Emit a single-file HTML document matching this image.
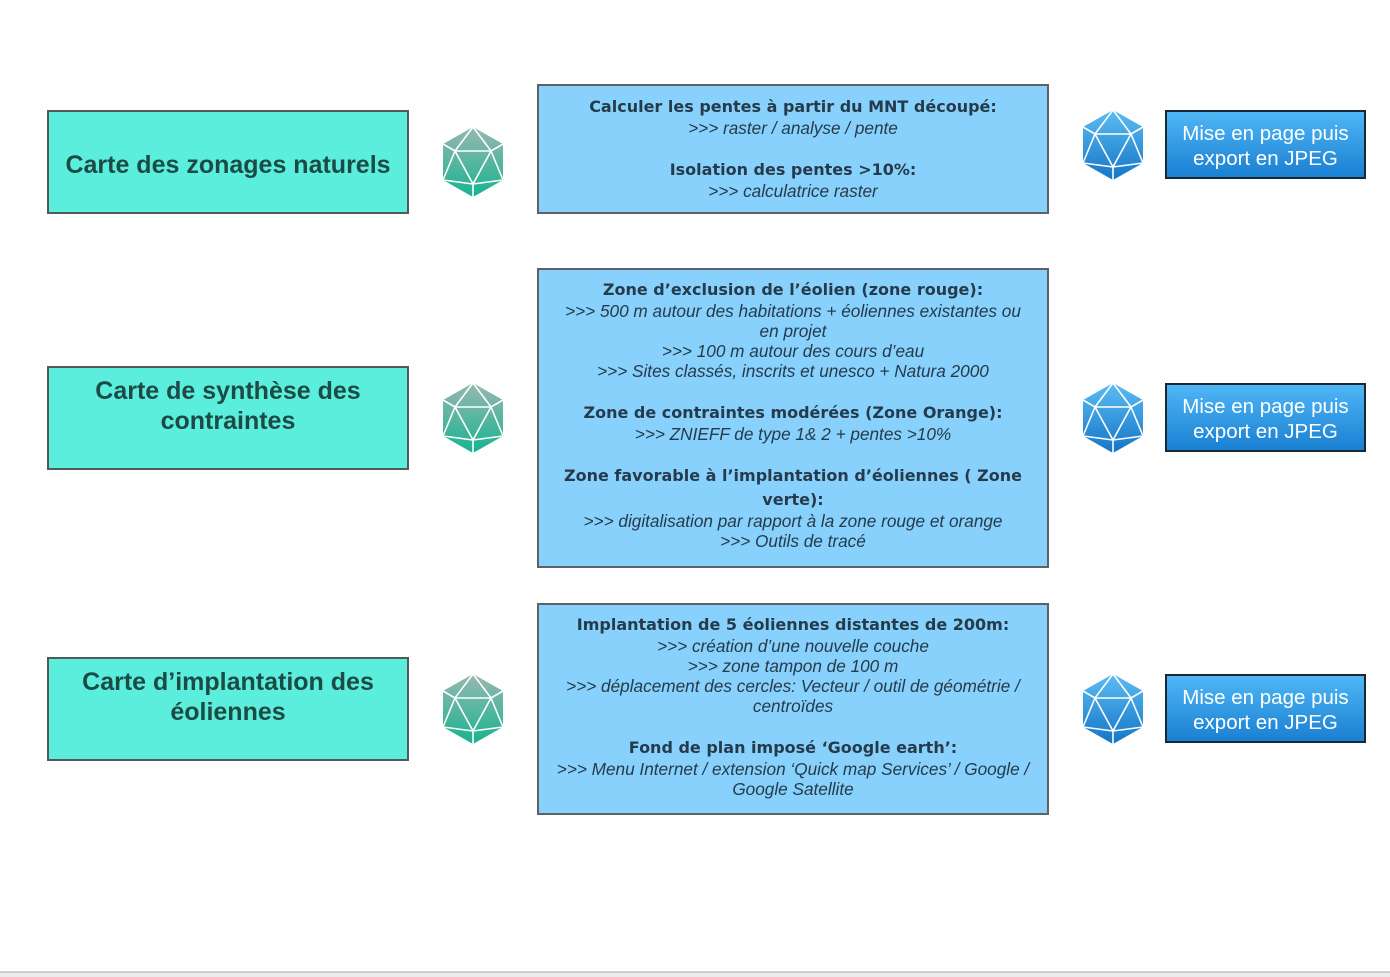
<!DOCTYPE html>
<html><head><meta charset="utf-8">
<style>
html,body{margin:0;padding:0;}
body{width:1390px;height:977px;position:relative;background:#fefefe;overflow:hidden;font-family:"Liberation Sans",Arial,sans-serif;}
.box{position:absolute;box-sizing:border-box;}
.lb{background:#5beedc;border:2px solid #505a58;}
.mb{background:#88d1fd;border:2px solid #5e6266;}
.bt{background:linear-gradient(#4fb6f6,#1a80d2);border:2px solid #1b2733;}
.lt{position:absolute;left:47px;width:362px;text-align:center;font-weight:bold;font-size:25px;line-height:30px;height:30px;color:#1c4a45;white-space:nowrap;}
.b,.i{position:absolute;left:537px;width:512px;text-align:center;height:20px;line-height:20px;white-space:nowrap;color:#253b4a;}
.b{font-family:"DejaVu Sans","Liberation Sans",sans-serif;font-weight:bold;font-size:16px;}
.i{font-style:italic;font-size:17.2px;}
.bl{position:absolute;left:1165px;width:201px;text-align:center;color:#fff;font-size:20.5px;height:25px;line-height:25px;white-space:nowrap;}
svg.ic{position:absolute;width:62px;height:72px;}
.bottom1{position:absolute;left:0;top:971px;width:1390px;height:1px;background:#d4d4d4;}
.bottom2{position:absolute;left:0;top:972px;width:1390px;height:5px;background:#ececec;border-top:1px solid #c8c8c8;box-sizing:border-box;}
</style></head><body>
<svg width="0" height="0" style="position:absolute">
<defs>
<linearGradient id="gg" x1="0" y1="0" x2="0" y2="1"><stop offset="0" stop-color="#98b8b0"/><stop offset="1" stop-color="#17b390"/></linearGradient>
<linearGradient id="bg" x1="0" y1="0" x2="0" y2="1"><stop offset="0" stop-color="#5cbdf2"/><stop offset="1" stop-color="#1475c8"/></linearGradient>
</defs>
</svg>

<!-- Left boxes -->
<div class="box lb" style="left:47px;top:110px;width:362px;height:104px;"></div>
<div class="box lb" style="left:47px;top:366px;width:362px;height:104px;"></div>
<div class="box lb" style="left:47px;top:657px;width:362px;height:104px;"></div>
<div class="lt" style="top:150px;">Carte des zonages naturels</div>
<div class="lt" style="top:376px;">Carte de synthèse des</div>
<div class="lt" style="top:406px;">contraintes</div>
<div class="lt" style="top:667px;">Carte d’implantation des</div>
<div class="lt" style="top:697px;">éoliennes</div>

<!-- Icons -->
<svg class="ic" style="left:442px;top:126px;" viewBox="-31 -36 62 72"><g stroke="#fff" stroke-width="1.6" fill="none" stroke-linejoin="round"><polygon points="0,-35 30,-18 30,18 0,35 -30,18 -30,-18" fill="url(#gg)" stroke="none"/><polygon points="-18,-11 18,-11 0,22"/><path d="M0,-35L-18,-11M0,-35L18,-11M-30,-18L-18,-11M30,-18L18,-11M-30,18L-18,-11M-30,18L0,22M30,18L18,-11M30,18L0,22M0,35L0,22"/></g></svg>
<svg class="ic" style="left:442px;top:382px;" viewBox="-31 -36 62 72"><g stroke="#fff" stroke-width="1.6" fill="none" stroke-linejoin="round"><polygon points="0,-35 30,-18 30,18 0,35 -30,18 -30,-18" fill="url(#gg)" stroke="none"/><polygon points="-18,-11 18,-11 0,22"/><path d="M0,-35L-18,-11M0,-35L18,-11M-30,-18L-18,-11M30,-18L18,-11M-30,18L-18,-11M-30,18L0,22M30,18L18,-11M30,18L0,22M0,35L0,22"/></g></svg>
<svg class="ic" style="left:442px;top:673px;" viewBox="-31 -36 62 72"><g stroke="#fff" stroke-width="1.6" fill="none" stroke-linejoin="round"><polygon points="0,-35 30,-18 30,18 0,35 -30,18 -30,-18" fill="url(#gg)" stroke="none"/><polygon points="-18,-11 18,-11 0,22"/><path d="M0,-35L-18,-11M0,-35L18,-11M-30,-18L-18,-11M30,-18L18,-11M-30,18L-18,-11M-30,18L0,22M30,18L18,-11M30,18L0,22M0,35L0,22"/></g></svg>

<svg class="ic" style="left:1082px;top:109px;" viewBox="-31 -36 62 72"><g stroke="#fff" stroke-width="1.6" fill="none" stroke-linejoin="round"><polygon points="0,-35 30,-18 30,18 0,35 -30,18 -30,-18" fill="url(#bg)" stroke="none"/><polygon points="-18,-11 18,-11 0,22"/><path d="M0,-35L-18,-11M0,-35L18,-11M-30,-18L-18,-11M30,-18L18,-11M-30,18L-18,-11M-30,18L0,22M30,18L18,-11M30,18L0,22M0,35L0,22"/></g></svg>
<svg class="ic" style="left:1082px;top:382px;" viewBox="-31 -36 62 72"><g stroke="#fff" stroke-width="1.6" fill="none" stroke-linejoin="round"><polygon points="0,-35 30,-18 30,18 0,35 -30,18 -30,-18" fill="url(#bg)" stroke="none"/><polygon points="-18,-11 18,-11 0,22"/><path d="M0,-35L-18,-11M0,-35L18,-11M-30,-18L-18,-11M30,-18L18,-11M-30,18L-18,-11M-30,18L0,22M30,18L18,-11M30,18L0,22M0,35L0,22"/></g></svg>
<svg class="ic" style="left:1082px;top:673px;" viewBox="-31 -36 62 72"><g stroke="#fff" stroke-width="1.6" fill="none" stroke-linejoin="round"><polygon points="0,-35 30,-18 30,18 0,35 -30,18 -30,-18" fill="url(#bg)" stroke="none"/><polygon points="-18,-11 18,-11 0,22"/><path d="M0,-35L-18,-11M0,-35L18,-11M-30,-18L-18,-11M30,-18L18,-11M-30,18L-18,-11M-30,18L0,22M30,18L18,-11M30,18L0,22M0,35L0,22"/></g></svg>

<!-- Middle boxes -->
<div class="box mb" style="left:537px;top:84px;width:512px;height:130px;"></div>
<div class="box mb" style="left:537px;top:268px;width:512px;height:300px;"></div>
<div class="box mb" style="left:537px;top:603px;width:512px;height:212px;"></div>

<div class="b" style="top:97px;">Calculer les pentes à partir du MNT découpé:</div>
<div class="i" style="top:118px;">&gt;&gt;&gt; raster / analyse / pente</div>
<div class="b" style="top:160px;">Isolation des pentes &gt;10%:</div>
<div class="i" style="top:181px;">&gt;&gt;&gt; calculatrice raster</div>

<div class="b" style="top:280px;">Zone d’exclusion de l’éolien (zone rouge):</div>
<div class="i" style="top:301px;">&gt;&gt;&gt; 500 m autour des habitations + éoliennes existantes ou</div>
<div class="i" style="top:321px;">en projet</div>
<div class="i" style="top:341px;">&gt;&gt;&gt; 100 m autour des cours d’eau</div>
<div class="i" style="top:361px;">&gt;&gt;&gt; Sites classés, inscrits et unesco + Natura 2000</div>
<div class="b" style="top:403px;">Zone de contraintes modérées (Zone Orange):</div>
<div class="i" style="top:424px;">&gt;&gt;&gt; ZNIEFF de type 1&amp; 2 + pentes &gt;10%</div>
<div class="b" style="top:466px;">Zone favorable à l’implantation d’éoliennes ( Zone</div>
<div class="b" style="top:490px;">verte):</div>
<div class="i" style="top:511px;">&gt;&gt;&gt; digitalisation par rapport à la zone rouge et orange</div>
<div class="i" style="top:531px;">&gt;&gt;&gt; Outils de tracé</div>

<div class="b" style="top:615px;">Implantation de 5 éoliennes distantes de 200m:</div>
<div class="i" style="top:636px;">&gt;&gt;&gt; création d’une nouvelle couche</div>
<div class="i" style="top:656px;">&gt;&gt;&gt; zone tampon de 100 m</div>
<div class="i" style="top:676px;">&gt;&gt;&gt; déplacement des cercles: Vecteur / outil de géométrie /</div>
<div class="i" style="top:696px;">centroïdes</div>
<div class="b" style="top:738px;">Fond de plan imposé ‘Google earth’:</div>
<div class="i" style="top:759px;">&gt;&gt;&gt; Menu Internet / extension ‘Quick map Services’ / Google /</div>
<div class="i" style="top:779px;">Google Satellite</div>

<!-- Buttons -->
<div class="box bt" style="left:1165px;top:110px;width:201px;height:69px;"></div>
<div class="box bt" style="left:1165px;top:383px;width:201px;height:69px;"></div>
<div class="box bt" style="left:1165px;top:674px;width:201px;height:69px;"></div>
<div class="bl" style="top:121px;">Mise en page puis</div>
<div class="bl" style="top:146px;">export en JPEG</div>
<div class="bl" style="top:394px;">Mise en page puis</div>
<div class="bl" style="top:419px;">export en JPEG</div>
<div class="bl" style="top:685px;">Mise en page puis</div>
<div class="bl" style="top:710px;">export en JPEG</div>

<div class="bottom1"></div>
<div class="bottom2"></div>
</body></html>
